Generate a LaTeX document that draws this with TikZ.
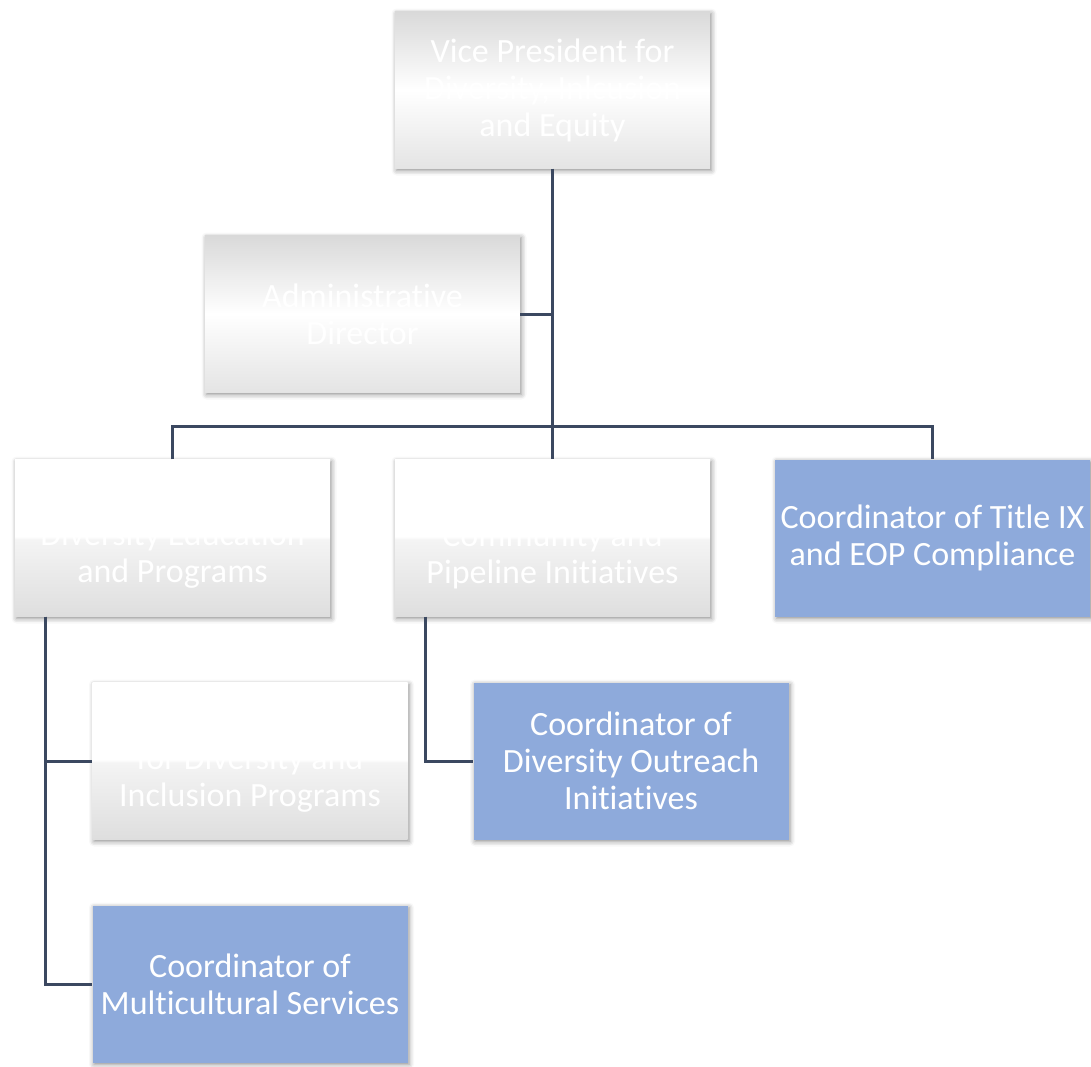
\documentclass[tikz,border=0pt]{standalone}
\usepackage{fontspec}
\setmainfont{Carlito}[Ligatures=NoCommon]
\usetikzlibrary{shadows.blur}
\definecolor{linec}{RGB}{59,72,96}
\definecolor{bluebox}{RGB}{142,170,219}
\definecolor{gtop}{RGB}{217,217,217}
\definecolor{gbot}{RGB}{228,228,228}
\definecolor{gfade}{RGB}{222,222,222}
\definecolor{gfadetop}{RGB}{244,244,244}
\pgfdeclareverticalshading{metal}{100bp}{color(0bp)=(gbot); color(25bp)=(gbot); color(50bp)=(white); color(75bp)=(gtop); color(100bp)=(gtop)}
\pgfdeclareverticalshading{fade}{100bp}{color(0bp)=(gfade); color(25bp)=(gfade); color(49.5bp)=(gfadetop); color(50.5bp)=(white); color(100bp)=(white)}
\tikzset{
  box/.style={rectangle, minimum width=315pt, minimum height=157pt, inner sep=0pt,
    align=center, text=white, font=\fontsize{34}{37}\selectfont,
    blur shadow={shadow xshift=1.5pt, shadow yshift=-2pt, shadow blur radius=5pt, shadow opacity=45}},
  metalbox/.style={box, shading=metal},
  fadebox/.style={box, shading=fade},
  bluenode/.style={box, fill=bluebox},
  conn/.style={draw=linec, line width=3pt}
}
\begin{document}
\begin{tikzpicture}[x=1pt,y=-1pt]
\useasboundingbox (0,0) rectangle (1091,1066);
\node[metalbox] (VP) at (552.5,90) {Vice President for\\Diversity, Inlcusion\\and Equity};
\node[metalbox] (Admin) at (362.5,314) {Administrative\\Director};
\node[fadebox] (DivEd) at (172.5,538) {\phantom{X}\\Diversity Education\\and Programs};
\node[fadebox] (Comm) at (552.5,538) {\phantom{X}\\Community and\\Pipeline Initiatives};
\node[bluenode] (TitleIX) at (932.5,538) {Coordinator of Title IX\\and EOP Compliance};
\node[fadebox] (DivIncl) at (250,761) {\phantom{X}\\for Diversity and\\Inclusion Programs};
\node[bluenode] (Outreach) at (631,761) {Coordinator of\\Diversity Outreach\\Initiatives};
\node[bluenode] (Multi) at (250,984) {Coordinator of\\Multicultural Services};
\coordinate (busL) at (172.5,426);
\path[conn] (VP.south) -- (Comm.north);
\path[conn] (Admin.east) -- (Admin.east -| VP.south);
\path[conn] (DivEd.north) -- (busL) -| (TitleIX.north);
\path[conn] ([xshift=31pt]DivEd.south west) |- (Multi.west);
\path[conn] ([xshift=31pt]DivEd.south west) |- (DivIncl.west);
\path[conn] ([xshift=31pt]Comm.south west) |- (Outreach.west);
\end{tikzpicture}
\end{document}
